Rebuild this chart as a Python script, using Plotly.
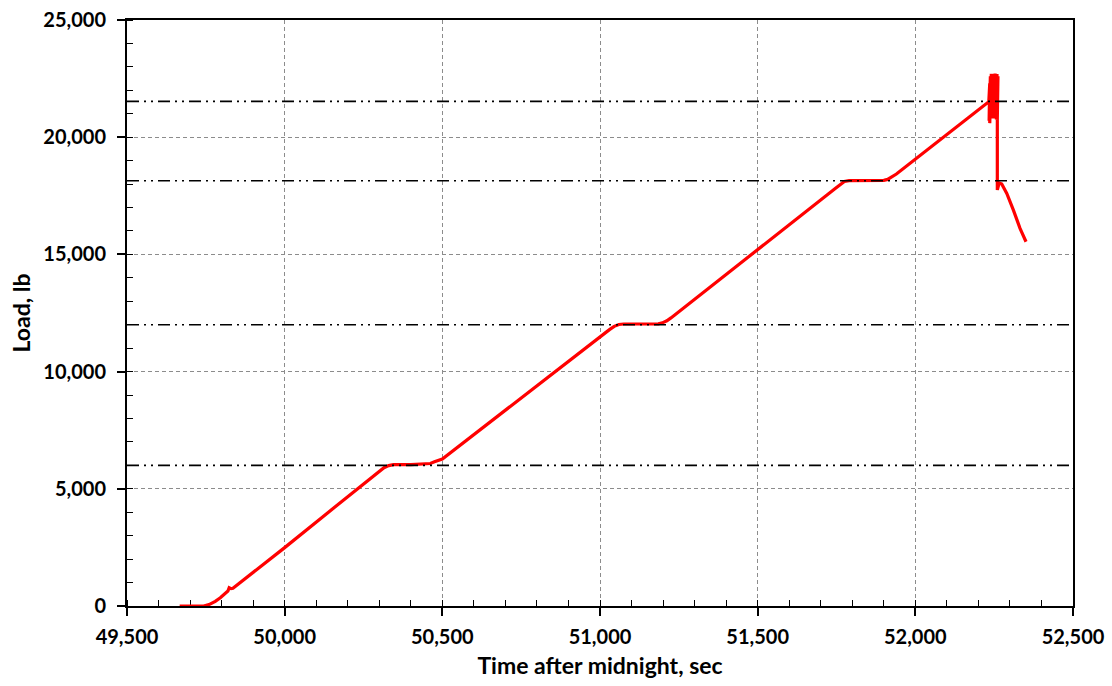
import plotly.graph_objects as go

# Load record: time after midnight (s) and load (lb)
time_s = [
    49667, 49700, 49743, 49760, 49780, 49796, 49808, 49816, 49820, 49824, 49830, 49836,
    49900, 50000, 50134, 50300, 50315, 50330, 50345, 50400, 50450, 50462, 50475, 50490, 50500,
    51030, 51045, 51060, 51075, 51185, 51198, 51212, 51225,
    51745, 51760, 51775, 51790, 51900, 51912, 51925, 51940,
    52233, 52236, 52234, 52238, 52236, 52241, 52239, 52244, 52242, 52247, 52245, 52250,
    52248, 52253, 52251, 52256, 52254, 52259, 52257, 52262, 52260, 52263, 52260,
    52260, 52263, 52266, 52274, 52290, 52311, 52332, 52351,
]
load_lb = [
    0, 0, 0, 60, 200, 355, 480, 560, 640, 780, 740, 760,
    1420, 2490, 3950, 5760, 5900, 5990, 6030, 6035, 6045, 6080, 6150, 6240, 6270,
    11790, 11930, 12010, 12030, 12040, 12080, 12170, 12290,
    17800, 17960, 18110, 18150, 18160, 18200, 18300, 18430,
    21515, 22300, 20700, 22600, 20600, 22700, 20900, 22650, 21000, 22700, 20800, 22600,
    21000, 22720, 20800, 22650, 20900, 22700, 20750, 22600, 20800, 22500, 21200,
    17750, 17900, 18050, 18000, 17600, 16890, 16110, 15540,
]

# Hold-level reference lines (lb)
hold_levels = [6000, 12000, 18140, 21530]

x_ticks = [49500, 50000, 50500, 51000, 51500, 52000, 52500]
y_ticks = [0, 5000, 10000, 15000, 20000, 25000]

FONT = "Lato"
TICK_FONT = dict(family=FONT, size=20, color="black", weight=700)
TITLE_FONT = dict(family=FONT, size=23, color="black", weight=700)

fig = go.Figure()

fig.add_trace(go.Scatter(
    x=time_s, y=load_lb, mode="lines",
    line=dict(color="#FF0000", width=3.2),
    cliponaxis=False, showlegend=False,
))

for lvl in hold_levels:
    fig.add_shape(
        type="line", xref="x domain", yref="y",
        x0=0, x1=1, y0=lvl, y1=lvl,
        line=dict(color="black", width=1.6, dash="12px,5px,2px,5px,2px,5px"),
        layer="above",
    )

axis_common = dict(
    showline=True, linecolor="black", linewidth=2, mirror=True,
    ticks="outside", ticklen=8, tickwidth=1.5, tickcolor="black",
    showgrid=True, gridcolor="#8c8c8c", gridwidth=1, griddash="4px,3px",
    zeroline=False, tickformat=",", layer="below traces",
    tickfont=TICK_FONT, automargin=False,
)

fig.update_xaxes(
    **axis_common,
    range=[49500, 52500], tickvals=x_ticks, ticklabelstandoff=4,
    minor=dict(ticks="inside", ticklen=6, tickwidth=1.2, tickcolor="black", dtick=100, showgrid=False),
    title=dict(text="Time after midnight, sec", standoff=11, font=TITLE_FONT),
)
fig.update_yaxes(
    **axis_common,
    range=[0, 25000], tickvals=y_ticks, ticklabelstandoff=7,
    minor=dict(ticks="inside", ticklen=6, tickwidth=1.2, tickcolor="black", dtick=1000, showgrid=False),
    title=dict(text="Load, lb", standoff=6, font=TITLE_FONT),
)

fig.update_layout(
    width=1112, height=686,
    margin=dict(l=127, r=39, t=20, b=80),
    paper_bgcolor="white", plot_bgcolor="white",
    font=dict(family=FONT, color="black"),
)

fig.write_html("out.html")
